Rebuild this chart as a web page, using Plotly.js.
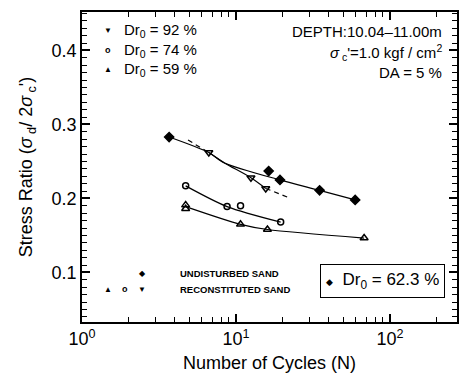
<!DOCTYPE html>
<html>
<head>
<meta charset="utf-8">
<script src="https://cdn.plot.ly/plotly-3.0.1.min.js"></script>
<style>html,body{margin:0;padding:0;background:#fff;}#chart{width:464px;height:378px;}</style>
</head>
<body>
<div id="chart"></div>
<script>
// Measured points
const undisturbedX = [3.68, 16.3, 19.3, 34.9, 59.4];
const undisturbedY = [0.283, 0.237, 0.225, 0.211, 0.198];
const dr92X = [6.66, 12.5, 15.6];
const dr92Y = [0.262, 0.228, 0.2135];
const dr74X = [4.71, 8.75, 10.7, 19.5];
const dr74Y = [0.217, 0.189, 0.190, 0.168];
const dr59X = [4.71, 4.71, 10.7, 16.0, 67.9];
const dr59Y = [0.191, 0.186, 0.165, 0.158, 0.1465];

// Fitted curves
const fitUndX = [3.68, 6.66, 8.42, 19.3, 34.9, 59.4];
const fitUndY = [0.283, 0.262, 0.248, 0.225, 0.211, 0.198];
const fit92X = [6.66, 8.42, 12.5, 15.6];
const fit92Y = [0.262, 0.248, 0.228, 0.2135];
const fit92StartX = [4.88, 6.66];
const fit92StartY = [0.279, 0.262];
const fit92EndX = [15.6, 22.1];
const fit92EndY = [0.2135, 0.201];
const fit74X = [4.71, 8.75, 19.5];
const fit74Y = [0.217, 0.189, 0.168];
const fit59X = [4.71, 10.7, 16.0, 67.9];
const fit59Y = [0.189, 0.165, 0.158, 0.1465];

// Tick labels
const xTickVals = [1, 10, 100];
const xTickText = ['10<sup>0</sup>', '10<sup>1</sup>', '10<sup>2</sup>'];
const xMinorVals = [2,3,4,5,6,7,8,9,20,30,40,50,60,70,80,90,200];
const yTickVals = [0.1, 0.2, 0.3, 0.4];
const yTickText = ['0.1', '0.2', '0.3', '0.4'];
const yMinorVals = [0.04,0.05,0.06,0.07,0.08,0.09,0.11,0.12,0.13,0.14,0.15,0.16,0.17,0.18,0.19,
  0.21,0.22,0.23,0.24,0.25,0.26,0.27,0.28,0.29,0.31,0.32,0.33,0.34,0.35,0.36,0.37,0.38,0.39,
  0.41,0.42,0.43,0.44,0.45];

const X_RANGE = [0, 2.435];
const Y_RANGE = [0.033, 0.452];
const FONT = 'Liberation Sans, Arial, sans-serif';
const lineStyle = {color: 'black', width: 1.2};

function curve(x, y, dash) {
  return {x: x, y: y, type: 'scatter', mode: 'lines', showlegend: false,
    line: Object.assign({}, lineStyle, {shape: 'spline', smoothing: 0.8, dash: dash || 'solid'}),
    hoverinfo: 'skip'};
}
function pts(x, y, symbol, size) {
  return {x: x, y: y, type: 'scatter', mode: 'markers', showlegend: false,
    marker: {symbol: symbol, size: size, color: 'black', line: {color: 'black', width: 1.5}}};
}

const data = [
  curve(fitUndX, fitUndY),
  curve(fit92X, fit92Y),
  curve(fit92StartX, fit92StartY, '5px,4px'),
  curve(fit92EndX, fit92EndY, '5px,4px'),
  curve(fit74X, fit74Y),
  curve(fit59X, fit59Y),
  pts(undisturbedX, undisturbedY, 'diamond', 7),
  pts(dr92X, dr92Y, 'triangle-down-open', 7),
  pts(dr74X, dr74Y, 'circle-open', 6),
  pts(dr59X, dr59Y, 'triangle-up-open', 7),
  // carrier for the minor-tick axes
  {x: [], y: [], type: 'scatter', mode: 'markers', xaxis: 'x2', yaxis: 'y2', showlegend: false}
];

function txt(x, y, text, size, anchor, extra) {
  return Object.assign({xref: 'paper', yref: 'paper', x: x, y: y, text: text, showarrow: false,
    xanchor: anchor || 'left', yanchor: 'middle', font: {family: FONT, size: size, color: 'black'}}, extra || {});
}

const annotations = [
  txt(0.07, 0.94, '▼', 8, 'center'),
  txt(0.07, 0.877, '<b>o</b>', 9, 'center'),
  txt(0.07, 0.816, '▲', 8, 'center'),
  txt(0.107, 0.94, 'Dr<sub>0</sub> = 92 %', 15),
  txt(0.107, 0.877, 'Dr<sub>0</sub> = 74 %', 15),
  txt(0.107, 0.816, 'Dr<sub>0</sub> = 59 %', 15),
  txt(0.965, 0.936, 'DEPTH:10.04–11.00m', 15, 'right'),
  txt(0.965, 0.868, '<i>σ</i><sub> c</sub>\'=1.0 kgf / cm<sup>2</sup>', 15, 'right'),
  txt(0.965, 0.806, 'DA = 5 %', 15, 'right'),
  txt(0.16, 0.155, '◆', 8, 'center'),
  txt(0.0705, 0.105, '▲', 8, 'center'),
  txt(0.115, 0.105, '<b>o</b>', 9, 'center'),
  txt(0.16, 0.105, '▼', 8, 'center'),
  txt(0.255, 0.155, '<b>UNDISTURBED SAND</b>', 9.5),
  txt(0.255, 0.105, '<b>RECONSTITUTED SAND</b>', 9.5),
  txt(0.8, 0.132, '<span style="font-size:9px">◆</span>  Dr<sub>0</sub> = 62.3 %', 17, 'center',
    {bordercolor: 'black', borderwidth: 1, borderpad: 5, bgcolor: 'white'})
];

const layout = {
  width: 464, height: 378,
  margin: {l: 82, r: 7, t: 12, b: 56},
  font: {family: FONT, size: 18, color: 'black'},
  showlegend: false,
  xaxis: {
    type: 'log', range: X_RANGE,
    showline: true, linecolor: 'black', linewidth: 1.5, mirror: 'ticks',
    showgrid: false, zeroline: false,
    ticks: 'inside', ticklen: 8, tickwidth: 1.5, tickcolor: 'black',
    tickmode: 'array', tickvals: xTickVals, ticktext: xTickText,
    tickfont: {family: FONT, size: 18},
    title: {text: 'Number of Cycles (N)', font: {family: FONT, size: 18}, standoff: 8}
  },
  yaxis: {
    range: Y_RANGE,
    showline: true, linecolor: 'black', linewidth: 1.5, mirror: 'ticks',
    showgrid: false, zeroline: false,
    ticks: 'inside', ticklen: 8, tickwidth: 1.5, tickcolor: 'black',
    tickmode: 'array', tickvals: yTickVals, ticktext: yTickText,
    tickfont: {family: FONT, size: 18},
    title: {text: 'Stress Ratio (<i>σ</i><sub> d</sub>/ 2<i>σ</i><sub> c</sub>\')', font: {family: FONT, size: 18}, standoff: 14}
  },
  xaxis2: {
    type: 'log', range: X_RANGE, overlaying: 'x', anchor: 'y2',
    showline: false, mirror: 'ticks', showgrid: false, zeroline: false,
    ticks: 'inside', ticklen: 5, tickwidth: 1.2, tickcolor: 'black',
    tickmode: 'array', tickvals: xMinorVals, showticklabels: false
  },
  yaxis2: {
    range: Y_RANGE, overlaying: 'y', anchor: 'x2',
    showline: false, mirror: 'ticks', showgrid: false, zeroline: false,
    ticks: 'inside', ticklen: 5, tickwidth: 1.2, tickcolor: 'black',
    tickmode: 'array', tickvals: yMinorVals, showticklabels: false
  },
  annotations: annotations
};

Plotly.newPlot('chart', data, layout, {displayModeBar: false});
</script>
</body>
</html>
